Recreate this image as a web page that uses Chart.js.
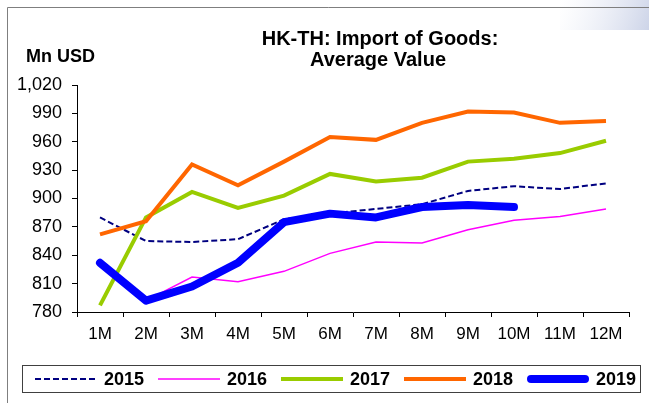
<!DOCTYPE html>
<html>
<head>
<meta charset="utf-8">
<script src="https://cdn.jsdelivr.net/npm/chart.js@4/dist/chart.umd.min.js"></script>
<style>
  body { margin: 0; background: #fff; }
  #wrap { width: 649px; height: 403px; }
</style>
</head>
<body>
<div id="wrap"><canvas id="Chart" width="649" height="403"></canvas></div>
<script>
// HK-TH import of goods, average value by month (Mn USD)
const months = ['1M', '2M', '3M', '4M', '5M', '6M', '7M', '8M', '9M', '10M', '11M', '12M'];
const v2015 = [880, 855, 854, 857, 878, 884, 889, 894, 908, 913, 910, 916];
const v2016 = [null, 792, 817, 812, 823, 842, 854, 853, 867, 877, 881, 889];
const v2017 = [787, 880, 907, 890, 903, 926, 918, 922, 939, 942, 948, 961];
const v2018 = [862, 876, 936, 914, 939, 965, 962, 980, 992, 991, 980, 982];
const v2019 = [832, 792, 807, 832, 875, 884, 880, 891, 893, 891];
const yTicks = { min: 780, max: 1020, step: 30 };

const FONT = '"Liberation Sans", Arial, sans-serif';

// frame, titles and the boxed legend along the bottom
const decor = {
  id: 'decor',
  beforeDraw(c) {
    const ctx = c.ctx;
    ctx.save();
    ctx.fillStyle = '#fff';
    ctx.fillRect(0, 0, c.width, c.height);
    const g = ctx.createLinearGradient(560, 0, 649, 30);
    g.addColorStop(0, 'rgba(230,234,245,0)');
    g.addColorStop(1, 'rgba(205,212,232,1)');
    ctx.fillStyle = g;
    ctx.fillRect(560, 0, 89, 30);
    ctx.strokeStyle = '#7f7f7f';
    ctx.lineWidth = 1;
    ctx.beginPath();
    ctx.moveTo(7.5, 403);
    ctx.lineTo(7.5, 7.5);
    ctx.lineTo(649, 7.5);
    ctx.stroke();
    ctx.restore();
  },
  afterDraw(c) {
    const ctx = c.ctx;
    ctx.save();
    ctx.fillStyle = '#000';
    ctx.textBaseline = 'middle';
    ctx.textAlign = 'center';
    ctx.font = 'bold 20px ' + FONT;
    ctx.fillText('HK-TH: Import of Goods:', 380, 39);
    ctx.fillText('Average Value', 378, 60);
    ctx.textAlign = 'left';
    ctx.font = 'bold 18px ' + FONT;
    ctx.fillText('Mn USD', 26, 57);

    // legend box
    ctx.strokeStyle = '#404040';
    ctx.lineWidth = 1;
    ctx.strokeRect(22.5, 365.5, 618, 27);
    const y = 379;
    c.data.datasets.forEach((ds, i) => {
      const x0 = 35 + i * 123;
      ctx.beginPath();
      ctx.strokeStyle = ds.borderColor;
      ctx.lineWidth = ds.borderWidth;
      ctx.lineCap = ds.borderCapStyle || 'butt';
      ctx.setLineDash(ds.borderDash || []);
      const pad = ds.borderCapStyle === 'round' ? ds.borderWidth / 2 : 0;
      ctx.moveTo(x0 + pad, y);
      ctx.lineTo(x0 + 62 - pad, y);
      ctx.stroke();
      ctx.setLineDash([]);
      ctx.fillStyle = '#000';
      ctx.font = 'bold 18px ' + FONT;
      ctx.fillText(ds.label, x0 + 69, y + 1);
    });
    ctx.restore();
  }
};

const chart = document.getElementById('Chart').getContext('2d');
const hkChart = new Chart(chart, {
  type: 'line',
  data: {
    labels: months,
    datasets: [{
      label: '2015',
      data: v2015,
      borderColor: '#000080',
      borderWidth: 2,
      borderDash: [6, 3],
      order: 4
    }, {
      label: '2016',
      data: v2016,
      borderColor: '#ff00ff',
      borderWidth: 1.5,
      order: 3
    }, {
      label: '2017',
      data: v2017,
      borderColor: '#99cc00',
      borderWidth: 4,
      order: 2
    }, {
      label: '2018',
      data: v2018,
      borderColor: '#ff6600',
      borderWidth: 4,
      order: 1
    }, {
      label: '2019',
      data: v2019,
      borderColor: '#0000ff',
      borderWidth: 8,
      borderCapStyle: 'round',
      borderJoinStyle: 'round',
      order: 0
    }]
  },
  options: {
    responsive: false,
    animation: false,
    spanGaps: false,
    layout: { padding: { left: 0, top: 85, right: 20, bottom: 0 } },
    elements: {
      point: { radius: 0, hoverRadius: 0 },
      line: { tension: 0 }
    },
    plugins: {
      legend: { display: false },
      tooltip: { enabled: false }
    },
    scales: {
      x: {
        offset: true,
        grid: { offset: true, drawOnChartArea: false, drawTicks: true, tickLength: 5, color: '#000' },
        border: { color: '#000', width: 1 },
        ticks: { color: '#000', font: { family: FONT, size: 17 }, padding: 7, maxRotation: 0 },
        afterFit(s) { s.height = 91; }
      },
      y: {
        min: yTicks.min,
        max: yTicks.max,
        grid: { drawOnChartArea: false, drawTicks: true, tickLength: 5, color: '#000' },
        border: { color: '#000', width: 1 },
        ticks: { stepSize: yTicks.step, color: '#000', font: { family: FONT, size: 18 }, padding: 10 },
        afterFit(s) { s.width = 77; }
      }
    }
  },
  plugins: [decor]
});
</script>
</body>
</html>
